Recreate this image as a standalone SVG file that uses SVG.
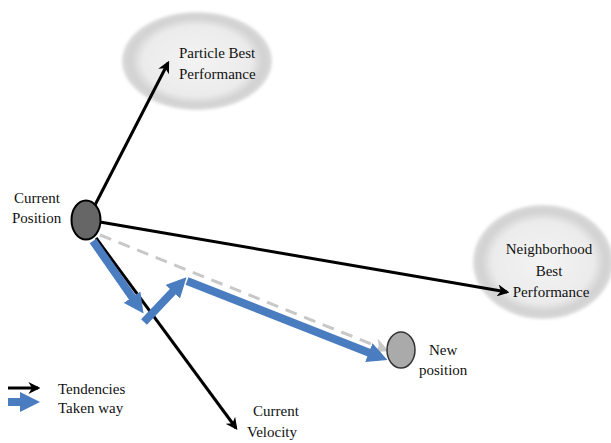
<svg xmlns="http://www.w3.org/2000/svg" width="611" height="443" viewBox="0 0 611 443">
<style>
text{font-size:15px;fill:#111}
.tend{stroke:#000;stroke-width:3;fill:none}
.way{stroke:#4a7cc0;stroke-width:8;fill:none}
</style>
<defs>
<radialGradient id="blob" cx="0.5" cy="0.5" r="0.5">
<stop offset="0" stop-color="#f4f4f4"/>
<stop offset="0.72" stop-color="#ebebeb"/>
<stop offset="0.88" stop-color="#d2d2d2"/>
<stop offset="1" stop-color="#bcbcbc" stop-opacity="0.5"/>
</radialGradient>
<filter id="soft" x="-10%" y="-10%" width="120%" height="120%"><feGaussianBlur stdDeviation="1.5"/></filter>
<marker id="ab" viewBox="0 0 10 10" refX="8" refY="5" markerWidth="4" markerHeight="4" orient="auto" markerUnits="strokeWidth"><path d="M0,0 L10,5 L0,10 L3,5 z" fill="#000"/></marker>
<marker id="ag" viewBox="0 0 10 10" refX="8" refY="5" markerWidth="5" markerHeight="5" orient="auto" markerUnits="strokeWidth"><path d="M0,0 L10,5 L0,10 L3,5 z" fill="#c8c8c8"/></marker>
<marker id="aw" viewBox="0 0 10 10" refX="6" refY="5" markerWidth="2.5" markerHeight="2.5" orient="auto" markerUnits="strokeWidth"><path d="M0,0 L10,5 L0,10 z" fill="#4a7cc0"/></marker>
</defs>
<g font-family="Liberation Serif, serif">
<g id="particle-best">
<ellipse cx="197" cy="61" rx="75" ry="49" fill="url(#blob)" filter="url(#soft)"/>
<text x="179" y="58">Particle Best</text>
<text x="179" y="79">Performance</text>
</g>
<g id="neighborhood-best">
<ellipse cx="543" cy="262" rx="70" ry="57" fill="url(#blob)" filter="url(#soft)"/>
<text x="549" y="254" text-anchor="middle">Neighborhood</text>
<text x="549" y="276" text-anchor="middle">Best</text>
<text x="551" y="297" text-anchor="middle">Performance</text>
</g>
<g id="connectors">
<line class="tend" x1="95" y1="205" x2="168" y2="63" marker-end="url(#ab)"/>
<line class="tend" x1="100" y1="222" x2="507" y2="292" marker-end="url(#ab)"/>
<line class="tend" x1="96" y1="238" x2="236" y2="428" marker-end="url(#ab)"/>
<line x1="100" y1="235" x2="386" y2="350" stroke="#c8c8c8" stroke-width="3" stroke-dasharray="12,8" marker-end="url(#ag)"/>
<line class="way" x1="93" y1="241" x2="139" y2="307" marker-end="url(#aw)"/>
<line class="way" x1="144" y1="322" x2="181" y2="283" marker-end="url(#aw)"/>
<line class="way" x1="187" y1="281" x2="380" y2="357" marker-end="url(#aw)"/>
</g>
<g id="current-position">
<ellipse cx="86" cy="220" rx="14.5" ry="19.5" fill="#666" stroke="#000" stroke-width="2"/>
<text x="14" y="203">Current</text>
<text x="12" y="223">Position</text>
</g>
<g id="new-position">
<ellipse cx="401" cy="350" rx="14" ry="18" fill="#aaa" stroke="#333" stroke-width="1.5"/>
<text x="429" y="355">New</text>
<text x="419" y="375">position</text>
</g>
<g id="current-velocity">
<text x="253" y="416">Current</text>
<text x="247" y="437">Velocity</text>
</g>
<g id="legend">
<line class="tend" x1="8" y1="388" x2="38" y2="388" marker-end="url(#ab)"/>
<line class="way" x1="8" y1="402" x2="32" y2="402" marker-end="url(#aw)"/>
<text x="58" y="394">Tendencies</text>
<text x="58" y="413">Taken way</text>
</g>
</g>
</svg>
